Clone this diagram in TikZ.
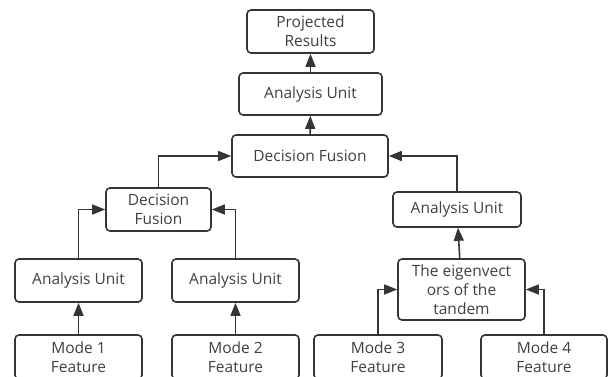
\documentclass[tikz,border=0pt]{standalone}
\usepackage{fontspec}
\setmainfont{Open Sans}
\usepackage{xcolor}
\usetikzlibrary{arrows.meta, positioning}
\definecolor{edgegray}{HTML}{353535}
\definecolor{textgray}{HTML}{404040}

\begin{document}
\begin{tikzpicture}[
            x=1pt, y=-1pt,
            block/.style={
                rectangle,
                draw=edgegray,
                line width=1.6pt,
                fill=white,
                align=center,
                rounded corners=4pt,
                inner sep=0pt,
                text=textgray,
                font=\fontsize{15.5}{19}\selectfont
            },
            line/.style={
                draw=edgegray,
                -{Triangle[length=13pt, width=10pt]},
                line width=1.6pt
            }
        ]
            \useasboundingbox (0,0) rectangle (611,376);

            % --- NODES ---
            \node [block, minimum width=127pt, minimum height=43pt] (results) at (310.5,31.5) {Projected\\Results};
            \node [block, minimum width=143pt, minimum height=42pt] (unitTop) at (310.5,94) {Analysis Unit};
            \node [block, minimum width=156pt, minimum height=42pt] (fusionTop) at (310,156) {Decision Fusion};

            \node [block, minimum width=105pt, minimum height=43pt] (fusionLeft) at (158.5,209.5) {Decision\\Fusion};
            \node [block, minimum width=127pt, minimum height=43pt] (unitA) at (78.5,280.5) {Analysis Unit};
            \node [block, minimum width=127pt, minimum height=43pt] (unitB) at (235.5,280.5) {Analysis Unit};
            \node [block, minimum width=127pt, minimum height=44pt] (modeA) at (78.5,357) {Mode 1\\Feature};
            \node [block, minimum width=127pt, minimum height=44pt] (modeB) at (235.5,357) {Mode 2\\Feature};

            \node [block, minimum width=128pt, minimum height=35pt] (unitRight) at (457,209.5) {Analysis Unit};
            \node [block, minimum width=127pt, minimum height=61pt] (tandem) at (461.5,289.5) {The eigenvect\\ors of the\\tandem};
            \node [block, minimum width=128pt, minimum height=44pt] (modeC) at (378,357) {Mode 3\\Feature};
            \node [block, minimum width=126pt, minimum height=44pt] (modeD) at (544,357) {Mode 4\\Feature};

            % --- LINKS ---
            \path [line] (unitTop) -- (results);
            \path [line] (fusionTop) -- (unitTop);
            \path [line] (fusionLeft.north) |- (fusionTop.west);
            \path [line] (unitRight.north) |- (fusionTop.east);

            \path [line] (unitA.north) |- (fusionLeft.west);
            \path [line] (unitB.north) |- (fusionLeft.east);
            \path [line] (modeA) -- (unitA);
            \path [line] (modeB) -- (unitB);

            \path [line] (tandem) -- (unitRight);
            \path [line] (modeC.north) |- (tandem.west);
            \path [line] (modeD.north) |- (tandem.east);
        \end{tikzpicture}
\end{document}
